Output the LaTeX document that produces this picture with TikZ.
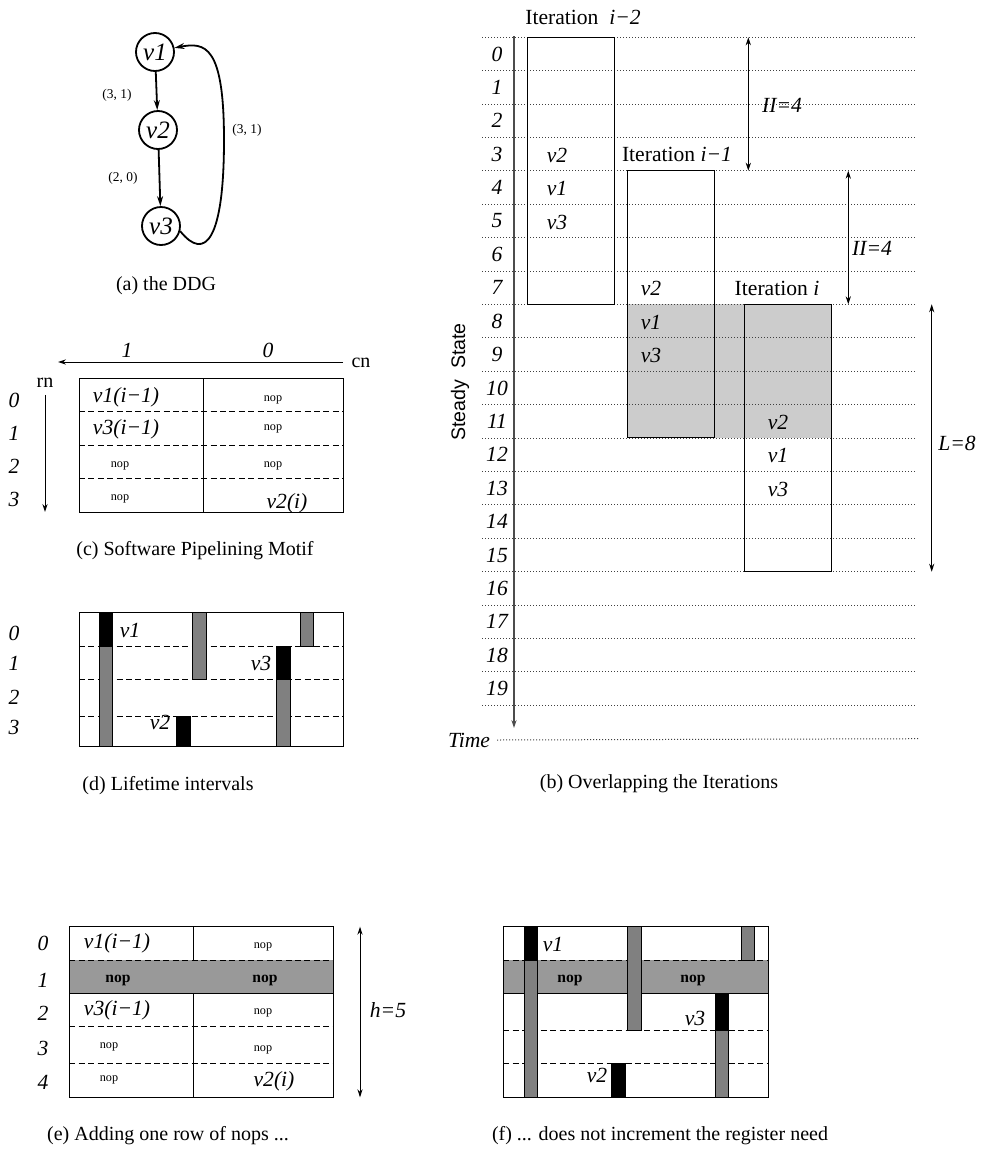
\documentclass[tikz,border=0pt]{standalone}
\usepackage{fontspec}
\setmainfont{Liberation Serif}
\newfontfamily\sansfam{Liberation Sans}
\usetikzlibrary{arrows.meta}

\begin{document}
\begin{tikzpicture}[x=0.5pt,y=-0.5pt,
  >={Stealth[length=4pt,width=2.6pt]},
  big/.style={font=\fontsize{10.8}{12}\selectfont\itshape},
  rom/.style={font=\fontsize{10.8}{12}\selectfont},
  captext/.style={font=\fontsize{10}{12}\selectfont},
  nop/.style={font=\fontsize{6.1}{7}\selectfont},
  bnop/.style={font=\fontsize{7.8}{9}\selectfont\bfseries},
  elbl/.style={font=\fontsize{6.7}{8}\selectfont},
  tline/.style={line width=0.5pt},
  dline/.style={line width=0.5pt,dash pattern=on 3pt off 1.7pt},
  dotline/.style={line width=0.5pt,black!75,dash pattern=on 0.5pt off 1pt},
  ddgnode/.style={circle,draw,line width=0.9pt,minimum size=19pt,inner sep=0pt,font=\fontsize{12.5}{14}\selectfont\itshape},
  ddgedge/.style={->,line width=0.9pt,>={Stealth[length=5pt,width=3pt]}},
  blk/.style={fill=black,draw=black,line width=0.4pt},
  gry/.style={fill=gray,draw=black,line width=0.4pt},
  dimarr/.style={<->,line width=0.5pt}]
\useasboundingbox (0,0) rectangle (992,1162);

% (a) the DDG
\node[ddgnode] (v1) at (155,52) {v1};
\node[ddgnode] (v2) at (158,130) {v2};
\node[ddgnode] (v3) at (161,226) {v3};
\draw[ddgedge] (v1) -- (v2);
\draw[ddgedge] (v2) -- (v3);
\draw[ddgedge] (v3.-15) .. controls (205,262) and (224,240) .. (224,140) .. controls (224,45) and (205,42) .. (v1.12);
\node[elbl] (w12) at (117,95) {(3, 1)};
\node[elbl] (w23) at (123,178) {(2, 0)};
\node[elbl] (w31) at (247,130) {(3, 1)};
\node[captext] (capa) at (166,286) {(a) the DDG};

% (c) motif
\draw[tline] (79,378) rectangle (343,512);
\draw[tline] (203,378) -- (203,512);
\foreach \y in {411,445,478} \draw[dline] (79,\y) -- (343,\y);
\foreach \r/\y in {0/400,1/433,2/466,3/499} \node[big] (c\r) at (14,\y) {\r};
\node[big] (col1) at (127,350) {1};
\node[big] (col0) at (268,350) {0};
\coordinate (cnstart) at (343,362);
\coordinate (cnend) at (58,362);
\draw[->,tline] (cnstart) -- (cnend);
\node[font=\fontsize{10}{12}\selectfont] (cn) at (361,363) {cn};
\node[font=\fontsize{10}{12}\selectfont] (rn) at (45,383) {rn};
\coordinate (rnend) at (45,512);
\draw[->,tline] (rn.south) -- (rnend);
\node[big] (m00) at (126,397) {v1(i−1)};
\node[nop] (m01) at (273,400) {nop};
\node[big] (m10) at (126,429) {v3(i−1)};
\node[nop] (m11) at (273,429) {nop};
\node[nop] (m20) at (120,466) {nop};
\node[nop] (m21) at (273,466) {nop};
\node[nop] (m30) at (120,499) {nop};
\node[big] (m31) at (287,503) {v2(i)};
\node[captext] (capc) at (195,551) {(c) Software Pipelining Motif};

% (d) lifetime intervals
\draw[tline] (79,612) rectangle (343,746);
\foreach \y in {646,679,716} \draw[dline] (79,\y) -- (343,\y);
\foreach \r/\y in {0/633,1/663,2/697,3/727} \node[big] (d\r) at (14,\y) {\r};
\draw[blk] (99.3,612) rectangle (112.7,646);
\draw[gry] (99.3,646) rectangle (112.7,746);
\draw[gry] (192.7,612) rectangle (206,679);
\draw[gry] (300,612) rectangle (313.3,646);
\draw[blk] (276.7,646) rectangle (290,679);
\draw[gry] (276.7,679) rectangle (290,746);
\draw[blk] (176,716) rectangle (190,746);
\node[big] (dv1) at (130,630) {v1};
\node[big] (dv3) at (261,663) {v3};
\node[big] (dv2) at (160,722) {v2};
\node[captext] (capd) at (168,786) {(d) Lifetime intervals};

% (b) overlapping the iterations
\fill[gray!40] (627.7,304.3) rectangle (831.7,437.7);
\foreach \k in {0,...,20} \draw[dotline] (482,{37.3+33.4*\k}) -- (916,{37.3+33.4*\k});
\foreach \k in {0,...,19} \node[big] (b\k) at (497,{54+33.4*\k}) {\k};
\draw[tline] (527.3,37.3) rectangle (614,304.3);
\draw[tline] (627.7,170.7) rectangle (714.3,437.7);
\draw[tline] (744.3,304.3) rectangle (831.7,571.7);
\node[rom] (it2) at (583,17) {Iteration\ \ \textit{i−2}};
\node[rom] (it1) at (677,154) {Iteration \textit{i−1}};
\node[rom] (it0) at (777,288) {Iteration \textit{i}};
\foreach \v/\r in {2/3,1/4,3/5} \node[big] (a\v) at (557,{55+33.4*\r}) {v\v};
\foreach \v/\r in {2/7,1/8,3/9} \node[big] (p\v) at (651,{55+33.4*\r}) {v\v};
\foreach \v/\r in {2/11,1/12,3/13} \node[big] (q\v) at (778,{55+33.4*\r}) {v\v};
\coordinate (axtop) at (514,36);
\coordinate (axbot) at (514,728);
\draw[->,line width=0.6pt,black!70] (axtop) -- (axbot);
\node[big] (time) at (469,740) {Time};
\coordinate (timeend) at (920,738.7);
\draw[dotline] (time.east) -- (timeend);
\node[font=\sansfam\fontsize{9.8}{12}\selectfont,rotate=90] (steady) at (460,382) {Steady\ \ State};
\coordinate (iia) at (748.3,37.3);
\coordinate (iib) at (748.3,170.7);
\draw[dimarr] (iia) -- (iib);
\node[big] (ii1) at (782,105) {II=4};
\coordinate (iic) at (848.3,170.7);
\coordinate (iid) at (848.3,304.3);
\draw[dimarr] (iic) -- (iid);
\node[big] (ii2) at (872,248) {II=4};
\coordinate (la) at (931.7,304.3);
\coordinate (lb) at (931.7,571.7);
\draw[dimarr] (la) -- (lb);
\node[big] (lat) at (957,443) {L=8};
\node[captext] (capb) at (659,784) {(b) Overlapping the Iterations};

% (e) one more row of nops
\draw[tline] (69.3,926.7) rectangle (333.3,1097.3);
\draw[tline] (193,926.7) -- (193,1097.3);
\fill[gray!80] (69.3,960) rectangle (333.3,993.3);
\draw[dline] (69.3,960) -- (333.3,960);
\draw[tline] (69.3,993.3) -- (333.3,993.3);
\draw[tline] (69.3,926.7) rectangle (333.3,1097.3);
\foreach \y in {1026.7,1063.3} \draw[dline] (69.3,\y) -- (333.3,\y);
\foreach \r/\y in {0/943,1/980,2/1013,3/1048,4/1082} \node[big] (e\r) at (43,\y) {\r};
\node[big] (n00) at (117,943) {v1(i−1)};
\node[nop] (n01) at (263,947) {nop};
\node[bnop] (n10) at (118,980) {nop};
\node[bnop] (n11) at (265,980) {nop};
\node[big] (n20) at (117,1010) {v3(i−1)};
\node[nop] (n21) at (263,1013) {nop};
\node[nop] (n30) at (109,1047) {nop};
\node[nop] (n31) at (263,1050) {nop};
\node[nop] (n40) at (109,1080) {nop};
\node[big] (n41) at (274,1081) {v2(i)};
\coordinate (ha) at (360,926.7);
\coordinate (hb) at (360,1097.3);
\draw[dimarr] (ha) -- (hb);
\node[big] (hlbl) at (388,1010) {h=5};
\node[captext] (cape) at (168,1136) {(e) Adding one row of nops ...};

% (f) same register need
\fill[gray!80] (503.3,960) rectangle (768.3,993.3);
\draw[dline] (503.3,960) -- (768.3,960);
\draw[tline] (503.3,993.3) -- (768.3,993.3);
\foreach \y in {1030,1063.3} \draw[dline] (503.3,\y) -- (768.3,\y);
\draw[tline] (503.3,926.7) rectangle (768.3,1097.3);
\draw[blk] (524.3,926.7) rectangle (537.7,960);
\draw[gry] (524.3,960) rectangle (537.7,1097.3);
\draw[gry] (627.7,926.7) rectangle (641,1030);
\draw[gry] (741.7,926.7) rectangle (754.3,960);
\draw[blk] (715,993.3) rectangle (728.3,1030);
\draw[gry] (715,1030) rectangle (728.3,1097.3);
\draw[blk] (611,1063.3) rectangle (625,1097.3);
\node[big] (fv1) at (553,944) {v1};
\node[bnop] (fn1) at (570,980) {nop};
\node[bnop] (fn2) at (693,980) {nop};
\node[big] (fv3) at (695,1018) {v3};
\node[big] (fv2) at (597,1075) {v2};
\node[captext] (capf) at (660,1136) {(f) ... does not increment the register need};
\end{tikzpicture}
\end{document}
